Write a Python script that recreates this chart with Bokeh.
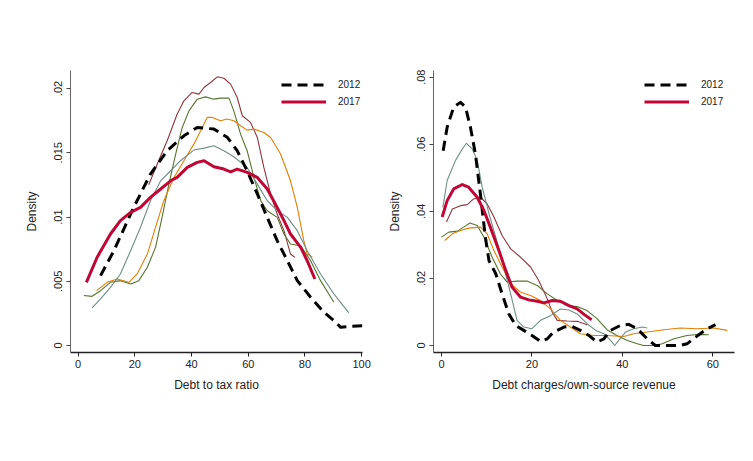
from bokeh.plotting import figure
from bokeh.layouts import row
from bokeh.models import FixedTicker, Range1d, Legend, LegendItem
from bokeh.embed import file_html
from bokeh.resources import INLINE

# ---------------- Left panel: Debt to tax ratio ----------------
L2012_x = [7.9, 12.6, 19.6, 25.5, 31.4, 37.3, 42, 47.9, 52.6, 56.1, 59.6, 63.2, 66.7, 70.2, 73.8, 77.3, 82, 86.7, 90.2, 92.6, 96.1, 100.8]
L2012_y = [0.00544, 0.00738, 0.01075, 0.01334, 0.01516, 0.01632, 0.01697, 0.01684, 0.0162, 0.01516, 0.0136, 0.01179, 0.00997, 0.00816, 0.0066, 0.00505, 0.00376, 0.00259, 0.00194, 0.00142, 0.0015, 0.00155]

L2017_x = [2.9, 6.7, 11.4, 14.9, 18.5, 22, 25.5, 29.1, 32.6, 34.9, 38.5, 42, 44.4, 47.9, 51.4, 53.8, 56.1, 59.6, 63.2, 66.7, 70.2, 72.6, 74.9, 78.5, 80.8, 83.5]
L2017_y = [0.00492, 0.00687, 0.00868, 0.00972, 0.01036, 0.01075, 0.01153, 0.01218, 0.01282, 0.01308, 0.01386, 0.01425, 0.01438, 0.01391, 0.01373, 0.01352, 0.01373, 0.01347, 0.01308, 0.01218, 0.01075, 0.00972, 0.00868, 0.00764, 0.0066, 0.00518]

Lmar_x = [24.9, 27.9, 31.4, 34.9, 37.3, 40.2, 42.6, 44.4, 46.7, 49.1, 51.4, 53.8, 56.1, 57.9, 60.8, 63.2, 65.5, 67.9, 70.2, 72.6, 74.9, 76.4]
Lmar_y = [0.01251, 0.01412, 0.01593, 0.018, 0.01904, 0.01969, 0.01956, 0.02008, 0.02047, 0.02091, 0.0208, 0.02034, 0.0193, 0.01788, 0.01736, 0.01619, 0.01386, 0.01179, 0.01023, 0.00894, 0.00712, 0.00687]

Lgrn_x = [2, 4.9, 7.9, 11.4, 14.9, 18.5, 21.4, 24.4, 27.3, 29.6, 32, 34.4, 36.7, 39.1, 42, 44.9, 47.9, 50.2, 53.2, 54.9, 57.3, 59.6, 62, 64.4, 66.7, 70.2, 72.6, 74.9, 78.5, 82, 85.5, 90.2]
Lgrn_y = [0.00389, 0.00383, 0.00427, 0.00492, 0.00505, 0.00479, 0.00505, 0.00609, 0.00764, 0.00997, 0.01256, 0.0149, 0.01697, 0.01826, 0.01917, 0.01935, 0.01917, 0.01925, 0.01925, 0.01826, 0.01645, 0.01516, 0.01308, 0.01127, 0.01049, 0.00997, 0.00868, 0.0079, 0.00777, 0.0066, 0.00505, 0.00337]

Lorg_x = [6.5, 10.2, 13.8, 17.9, 20.8, 24.4, 27.3, 30.2, 33.8, 37.3, 40.8, 43.2, 45.5, 47.3, 50.2, 52.6, 54.9, 57.3, 59.6, 62, 65.5, 67.9, 71.4, 74.9, 77.3, 79.6, 80.8, 82.6]
Lorg_y = [0.00427, 0.00492, 0.00518, 0.00492, 0.00557, 0.00712, 0.0092, 0.01127, 0.01308, 0.01438, 0.01567, 0.01671, 0.01775, 0.01775, 0.01749, 0.01762, 0.01749, 0.0171, 0.01676, 0.01684, 0.01658, 0.01619, 0.0149, 0.01282, 0.01075, 0.00816, 0.00712, 0.00687]

Ltea_x = [4.9, 7.9, 11.4, 14.9, 18.5, 22, 25.5, 29.1, 32.6, 36.1, 40.8, 44.4, 47.9, 51.4, 54.9, 59.6, 63.2, 66.7, 70.2, 73.8, 77.3, 80.8, 85.5, 90.2, 95.5]
Ltea_y = [0.00293, 0.00363, 0.00453, 0.00557, 0.00738, 0.0092, 0.01127, 0.01282, 0.0136, 0.01438, 0.01521, 0.01536, 0.01554, 0.01516, 0.01469, 0.01386, 0.01256, 0.01127, 0.01049, 0.00997, 0.00894, 0.00738, 0.00557, 0.00402, 0.00254]

L_xticks = [0, 20, 40, 60, 80, 100]
L_yticks = [0, 0.005, 0.01, 0.015, 0.02]
L_ylabels = ["0", ".005", ".01", ".015", ".02"]

# ---------------- Right panel: Debt charges / own-source revenue ----------------
R2012_x = [0.37, 1.25, 2.7, 4.2, 5.3, 6.4, 7.5, 8.6, 9.7, 10.5, 12, 13.4, 14.9, 16.4, 18.2, 20, 21.9, 23.4, 24.8, 27.1, 28.9, 30.7, 32.6, 34.4, 35.9, 37.4, 39.6, 41.4, 43.3, 45.5, 47.3, 49.9, 52.8, 54.3, 56.2, 58.4, 60.6]
R2012_y = [0.0581, 0.0651, 0.0711, 0.0725, 0.0711, 0.0651, 0.0571, 0.0452, 0.0323, 0.0253, 0.0214, 0.0154, 0.0094, 0.006, 0.0045, 0.003, 0.0012, 0.002, 0.004, 0.0055, 0.0057, 0.0045, 0.003, 0.001, 0.002, 0.0045, 0.006, 0.0063, 0.005, 0.002, 0.0, 0.0, 0.0, 0.0005, 0.0025, 0.0047, 0.0062]

R2017_x = [0.15, 1.25, 2.7, 4.6, 6, 7.9, 9.4, 10.8, 12.7, 14.2, 15.6, 17.5, 19.3, 21.2, 22.6, 24.5, 26.3, 28.2, 30, 31.6, 33.2]
R2017_y = [0.0383, 0.0432, 0.0467, 0.048, 0.0472, 0.0442, 0.0402, 0.0353, 0.0283, 0.0224, 0.0174, 0.0144, 0.0136, 0.0132, 0.0127, 0.0134, 0.0132, 0.0119, 0.0109, 0.0092, 0.0077]

Rtea_x = [0.3, 1.25, 3.1, 4.6, 5.5, 6.8, 7.9, 9, 10.5, 12, 13.8, 15.3, 16.7, 18.2, 20, 21.9, 24.1, 26.3, 28.2, 30, 32.2, 34.1, 35.9, 37.4, 38.3, 39.2, 40.7, 42.5, 44.4, 45.5]
Rtea_y = [0.0412, 0.0492, 0.0552, 0.0586, 0.0603, 0.0586, 0.0552, 0.0472, 0.0393, 0.0323, 0.0234, 0.0154, 0.0075, 0.0055, 0.005, 0.0075, 0.0089, 0.0109, 0.0106, 0.0094, 0.0065, 0.0045, 0.0035, 0.0015, 0.0, 0.0015, 0.004, 0.005, 0.0055, 0.0052]

Rmar_x = [1.1, 2.4, 4.2, 5.7, 7.1, 8.6, 10.1, 11.6, 13.4, 15.3, 17.5, 19.7, 21.5, 23.4, 24.5, 25.6, 27.8, 30, 32.2]
Rmar_y = [0.0368, 0.0407, 0.0417, 0.042, 0.0437, 0.0442, 0.0422, 0.0383, 0.0328, 0.0288, 0.0263, 0.0234, 0.0194, 0.0139, 0.0099, 0.0075, 0.0073, 0.0072, 0.0062]

Rgrn_x = [0, 1.6, 3.5, 4.9, 6.3, 7.9, 9.4, 11.2, 13, 14.5, 16.7, 18.9, 21.2, 23.4, 25.6, 27.8, 30, 32.2, 34.4, 36.6, 38.8, 41.1, 43.3, 44.7, 47, 48.8, 51.4, 54.3, 56.5, 59.1]
Rgrn_y = [0.0323, 0.0338, 0.0341, 0.0353, 0.0365, 0.0358, 0.0323, 0.0263, 0.0214, 0.0189, 0.0192, 0.0192, 0.0179, 0.0154, 0.0134, 0.0119, 0.0116, 0.0104, 0.008, 0.0047, 0.003, 0.0015, 0.0005, 0.0, 0.0, 0.0005, 0.002, 0.003, 0.0033, 0.0032]

Rorg_x = [0.7, 2.4, 4.2, 6, 8.6, 10.1, 11.6, 13.4, 15.3, 17.5, 19.7, 21.9, 24.1, 26.3, 28.5, 30.7, 33.7, 36.6, 40.3, 42.5, 45.5, 49.2, 52.8, 56.5, 60.2, 63.2]
Rorg_y = [0.0313, 0.0333, 0.0343, 0.035, 0.0353, 0.0333, 0.0283, 0.0234, 0.0184, 0.0159, 0.0149, 0.0134, 0.0109, 0.0075, 0.0055, 0.0035, 0.003, 0.003, 0.0027, 0.0035, 0.004, 0.0047, 0.0052, 0.005, 0.0052, 0.0045]

R_xticks = [0, 20, 40, 60]
R_yticks = [0, 0.02, 0.04, 0.06, 0.08]
R_ylabels = ["0", ".02", ".04", ".06", ".08"]

# colours (Stata s2color)
C_MAR = "#90353B"
C_GRN = "#55752F"
C_ORG = "#E37E00"
C_TEA = "#6E8E84"
C_CRAN = "#C10534"
FONT = "Liberation Sans"


def style(p, xticks, yticks, ylabels, xtitle):
    p.xaxis.ticker = FixedTicker(ticks=xticks)
    p.yaxis.ticker = FixedTicker(ticks=yticks)
    p.yaxis.major_label_overrides = {t: l for t, l in zip(yticks, ylabels)}
    p.xaxis.axis_label = xtitle
    p.yaxis.axis_label = "Density"
    for ax in (p.xaxis[0], p.yaxis[0]):
        ax.axis_label_text_font = FONT
        ax.axis_label_text_font_size = "12px"
        ax.axis_label_text_font_style = "normal"
        ax.axis_label_text_color = "#222222"
        ax.major_label_text_font = FONT
        ax.major_label_text_font_size = "11px"
        ax.major_label_text_color = "#222222"
        ax.minor_tick_line_color = None
        ax.major_tick_in = 0
        ax.major_tick_out = 4
    p.xaxis.axis_line_color = "#222222"
    p.xaxis.major_tick_line_color = "#222222"
    p.xaxis.axis_line_width = 1.5
    p.yaxis.axis_line_color = "#666666"
    p.yaxis.major_tick_line_color = "#444444"
    p.yaxis.axis_line_width = 1
    p.yaxis.major_label_orientation = "vertical"
    p.xaxis.major_label_standoff = 3
    p.xaxis.axis_label_standoff = 7
    p.yaxis.major_label_standoff = 4
    p.yaxis.axis_label_standoff = 13
    p.xgrid.visible = False
    p.ygrid.visible = False
    p.outline_line_color = None
    p.background_fill_color = "white"
    p.border_fill_color = "white"


def add_lines(p, data):
    r12 = None
    r17 = None
    for xs, ys, col, w, dash, tag in data:
        r = p.line(xs, ys, line_color=col, line_width=w, line_dash=dash, line_join="round")
        if tag == "2012":
            r12 = r
        elif tag == "2017":
            r17 = r
    return r12, r17


def add_legend(p, r12, r17, frame_h):
    leg = Legend(items=[LegendItem(label="2012", renderers=[r12]),
                        LegendItem(label="2017", renderers=[r17])],
                 location=(211, frame_h - 5.5 - 34))
    leg.border_line_color = None
    leg.background_fill_alpha = 0
    leg.padding = 0
    leg.margin = 0
    leg.spacing = 0
    leg.glyph_width = 45
    leg.glyph_height = 17
    leg.label_height = 17
    leg.label_standoff = 12
    leg.label_text_font = FONT
    leg.label_text_font_size = "10px"
    leg.label_text_color = "#222222"
    p.add_layout(leg, "center")


H = 453
# left figure: page x 0..380 ; frame 70..362 ; frame y 70..352
p1 = figure(width=380, height=H, output_backend="svg", toolbar_location=None,
            x_range=Range1d(-2.7, 100.3), y_range=Range1d(-0.00054, 0.0214),
            min_border_left=70, min_border_right=18, min_border_top=70, min_border_bottom=101)
style(p1, L_xticks, L_yticks, L_ylabels, "Debt to tax ratio")
r12, r17 = add_lines(p1, [
    (Lmar_x, Lmar_y, C_MAR, 1.1, "solid", None),
    (Lgrn_x, Lgrn_y, C_GRN, 1.1, "solid", None),
    (Lorg_x, Lorg_y, C_ORG, 1.1, "solid", None),
    (Ltea_x, Ltea_y, C_TEA, 1.1, "solid", None),
    (L2012_x, L2012_y, "black", 3, "10 6", "2012"),
    (L2017_x, L2017_y, C_CRAN, 3, "solid", "2017"),
])
add_legend(p1, r12, r17, 282)

# right figure: page x 380..745 ; frame 433..734
p2 = figure(width=365, height=H, output_backend="svg", toolbar_location=None,
            x_range=Range1d(-1.77, 64.8), y_range=Range1d(-0.00209, 0.0820),
            min_border_left=53, min_border_right=11, min_border_top=70, min_border_bottom=101)
style(p2, R_xticks, R_yticks, R_ylabels, "Debt charges/own-source revenue")
r12b, r17b = add_lines(p2, [
    (Rmar_x, Rmar_y, C_MAR, 1.1, "solid", None),
    (Rgrn_x, Rgrn_y, C_GRN, 1.1, "solid", None),
    (Rorg_x, Rorg_y, C_ORG, 1.1, "solid", None),
    (Rtea_x, Rtea_y, C_TEA, 1.1, "solid", None),
    (R2012_x, R2012_y, "black", 3, "10 6", "2012"),
    (R2017_x, R2017_y, C_CRAN, 3, "solid", "2017"),
])
add_legend(p2, r12b, r17b, 282)

layout = row(p1, p2)
open("out.html", "w").write(file_html(layout, INLINE))
